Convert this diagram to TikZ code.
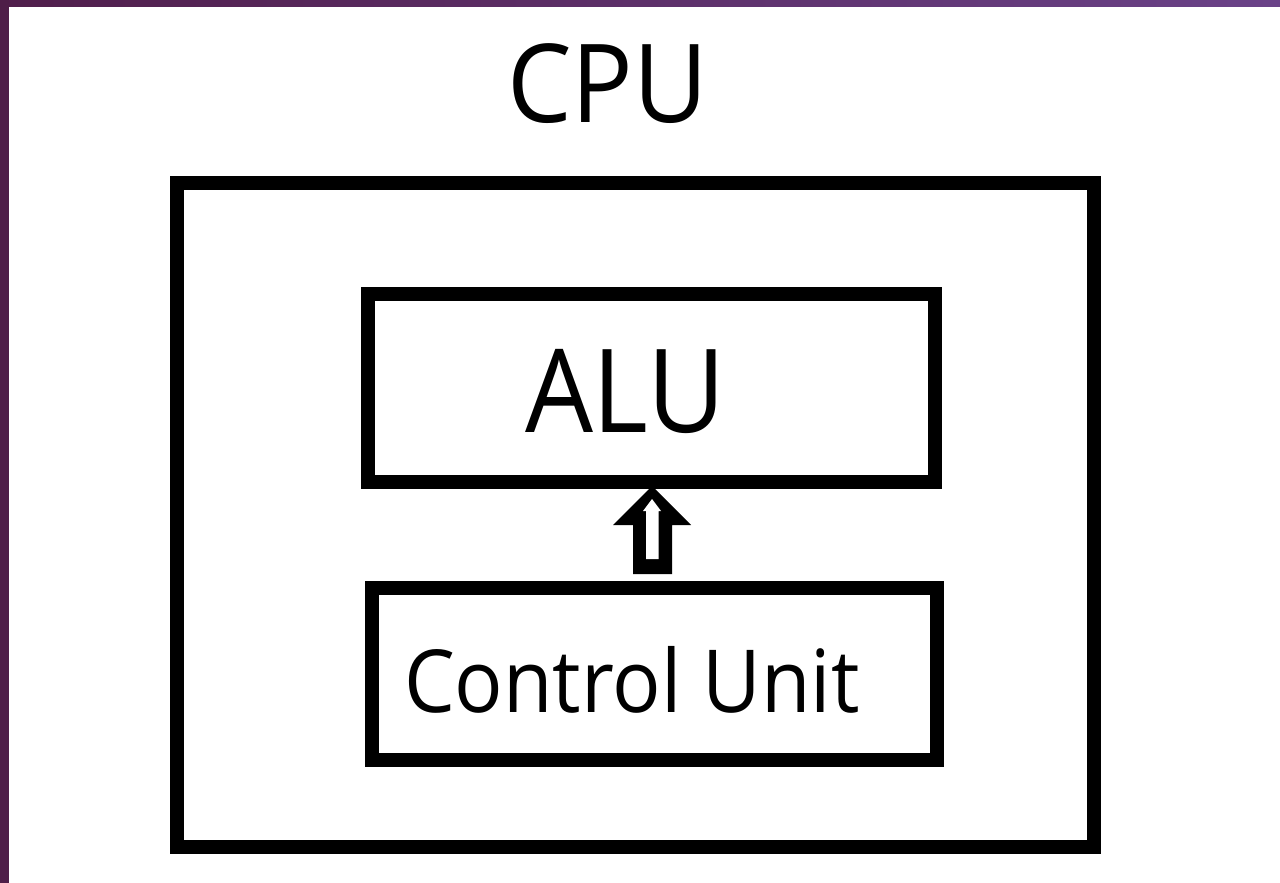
\documentclass[tikz,border=0pt]{standalone}
\usepackage{fontspec}
\usepackage{graphicx}
\usetikzlibrary{calc}
\setmainfont{Open Sans}
\definecolor{frameL}{RGB}{80,30,75}
\definecolor{frameR}{RGB}{106,66,136}
\definecolor{frameV}{RGB}{78,30,72}
\begin{document}
\begin{tikzpicture}[x=1pt,y=-1pt,
  box/.style={draw=black,line width=14pt,fill=white,inner sep=0pt,outer sep=0pt},
  lbl/.style={inner sep=0pt,outer sep=0pt,anchor=base west,text=black}]
\useasboundingbox (0,0) rectangle (1280,883);
\fill[white] (0,0) rectangle (1280,883);
% purple frame
\shade[left color=frameL,right color=frameR] (0,0) rectangle (1280,7);
\fill[frameV] (0,0) rectangle (8.7,883);
% boxes
\node[box,minimum width=917pt,minimum height=664pt] (cpu) at (635.5,515) {};
\node[box,minimum width=567pt,minimum height=188pt] (alu) at (651.5,388) {};
\node[box,minimum width=565pt,minimum height=172pt] (cu) at (654.5,674) {};
% labels
\node[lbl] (cputxt) at (507,122) {\scalebox{0.94}[1]{\fontsize{109}{109}\selectfont CPU}};
\node[lbl] (alutxt) at (525,432) {\scalebox{0.926}[1]{\fontsize{116}{116}\selectfont ALU}};
\node[lbl] (cutxt) at (404,712) {\scalebox{0.926}[1]{\fontsize{87}{87}\selectfont Control Unit}};
% block arrow from control unit to ALU
\coordinate (tip) at ($(alu.south)+(0.5,4)$);
\coordinate (base) at ($(cu.north)+(-2,-14)$);
\fill[black] (tip) -- ++(39,39) -- ++(-19,0) |- (base) -- ++(-19.5,0) |- ++(-20,-49) -- cycle;
\fill[white] ($(tip)+(0,13)$) -- ++(9,12) -- ++(-2.5,0) -- ++(0,48) -- ++(-12.5,0) -- ++(0,-48) -- ++(-3,0) -- cycle;
\end{tikzpicture}
\end{document}
